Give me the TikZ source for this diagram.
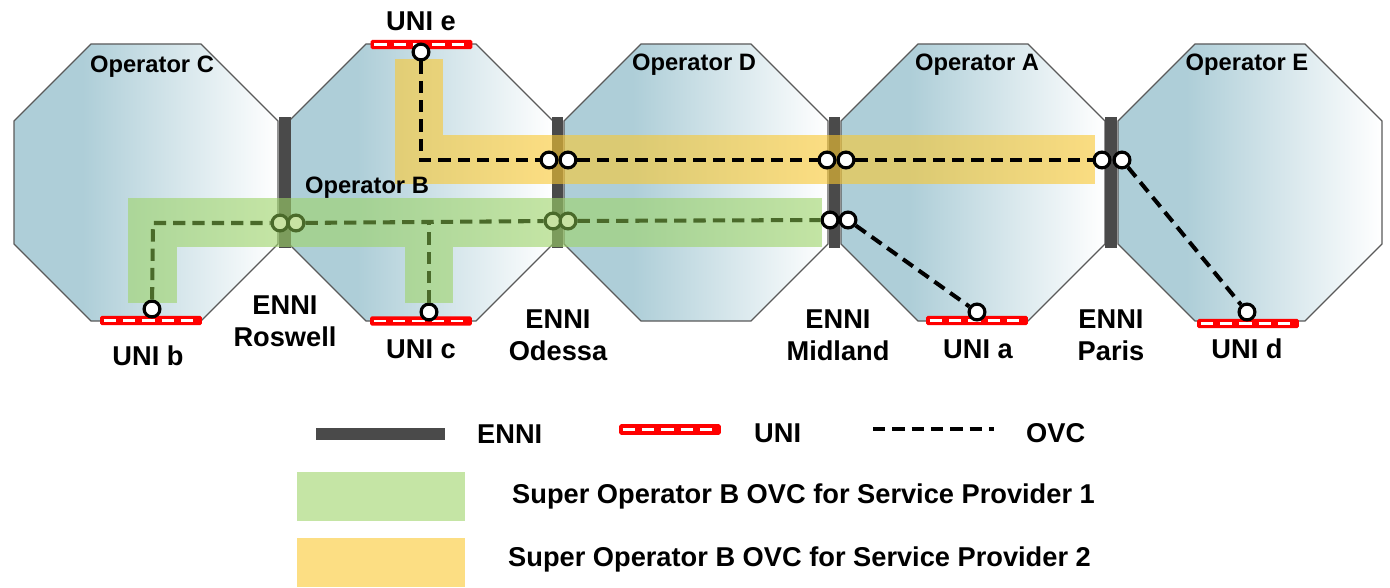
\documentclass[tikz,border=0pt]{standalone}
\usepackage{fontspec}
\setmainfont{Liberation Sans}
\usetikzlibrary{positioning}
\definecolor{opblue}{HTML}{AECED8}
\definecolor{opline}{HTML}{5A5A5A}
\definecolor{ennigray}{HTML}{4A4A4A}
\definecolor{ovcgreen}{HTML}{4A6A2A}
\definecolor{greenpt}{HTML}{C8E2A2}
\definecolor{spone}{HTML}{9ED469}
\definecolor{sptwo}{HTML}{FAC830}
\definecolor{unired}{HTML}{FF0000}
\pgfdeclarehorizontalshading{opshade}{100bp}{color(0bp)=(opblue); color(25bp)=(opblue); color(38bp)=(opblue); color(75bp)=(white); color(100bp)=(white)}
\tikzset{
  operator/.style={
    draw=opline,
    line width=0.7pt,
    shading=opshade
  },
  enni/.style={
    fill=ennigray,
    inner sep=0pt,
    minimum width=6.8pt,
    minimum height=74.3pt
  },
  unibar/.style={
    fill=unired,
    rounded corners=1pt,
    inner sep=0pt,
    minimum width=57.8pt,
    minimum height=5.4pt,
    path picture={
      \draw[white, line width=1.4pt, dash pattern=on 7pt off 4pt]
        ([xshift=2pt]path picture bounding box.west) -- ([xshift=-2pt]path picture bounding box.east);
    }
  },
  sponeband/.style={fill=spone, opacity=0.6},
  sptwoband/.style={fill=sptwo, opacity=0.6},
  ovc/.style={
    line width=2.3pt,
    dash pattern=on 7pt off 4pt
  },
  ovcg/.style={ovc, draw=ovcgreen},
  endpt/.style={
    circle,
    draw=black,
    fill=white,
    line width=1.8pt,
    minimum size=9pt,
    inner sep=0pt
  },
  greenendpt/.style={endpt, draw=ovcgreen, fill=greenpt},
  oplabel/.style={font=\fontsize{13.5}{15}\selectfont\bfseries},
  biglabel/.style={font=\fontsize{15.5}{18}\selectfont\bfseries, align=center}
}
\begin{document}
\begin{tikzpicture}[x=0.02cm, y=-0.02cm]
    \useasboundingbox (0,0) rectangle (1390,588);
    % operator domains
    \foreach \cx in {146,421,696,973,1250}
      \draw[operator] ({\cx-55},44) -- ({\cx+55},44) -- ({\cx+132},121) -- ({\cx+132},244)
        -- ({\cx+55},321) -- ({\cx-55},321) -- ({\cx-132},244) -- ({\cx-132},121) -- cycle;
    % ENNIs
    \node[enni] (roswell) at (285,182.5) {};
    \node[enni] (odessa) at (557.5,182.5) {};
    \node[enni] (midland) at (834.5,182.5) {};
    \node[enni] (paris) at (1111,182.5) {};
    % super operator OVCs
    \fill[sponeband] (128,198) rectangle (822,247);
    \fill[sponeband] (128,247) rectangle (177,303);
    \fill[sponeband] (405,247) rectangle (453,303);
    \fill[sptwoband] (395,135) rectangle (1095,184);
    \fill[sptwoband] (395,59) rectangle (443,135);
    % UNIs
    \node[unibar] (unib) at (151,320.5) {};
    \node[unibar] (unic) at (421,321) {};
    \node[unibar] (unie) at (421.5,44.5) {};
    \node[unibar] (unia) at (977,320.5) {};
    \node[unibar] (unid) at (1248,323.5) {};
    % OVC end points
    \node[endpt] (pe) at (421,52) {};
    \node[endpt] (po1) at (549,160) {};
    \node[endpt] (po2) at (568,160) {};
    \node[endpt] (pm1) at (827,160) {};
    \node[endpt] (pm2) at (846,160) {};
    \node[endpt] (pp1) at (1102,160) {};
    \node[endpt] (pp2) at (1122,160) {};
    \node[endpt] (pd) at (1247,312) {};
    \node[endpt] (pb) at (152,309) {};
    \node[greenendpt] (pr1) at (280,223) {};
    \node[greenendpt] (pr2) at (296,223) {};
    \node[greenendpt] (po3) at (553,221) {};
    \node[greenendpt] (po4) at (568,221) {};
    \node[endpt] (pm3) at (830,220) {};
    \node[endpt] (pm4) at (848,220) {};
    \node[endpt] (pc) at (429,312) {};
    \node[endpt] (pa) at (977,312) {};
    \coordinate (ebend) at (421,160);
    \coordinate (bbend) at (153,223);
    \coordinate (cjoin) at (429,222);
    % OVC segments
    \draw[ovc] (pe) -- (ebend) -- (po1);
    \draw[ovc] (po2) -- (pm1);
    \draw[ovc] (pm2) -- (pp1);
    \draw[ovc] (pp2) -- (pd);
    \draw[ovcg] (pb) -- (bbend) -- (pr1);
    \draw[ovcg] (pr2) -- (po3);
    \draw[ovcg] (pc) -- (cjoin);
    \draw[ovcg] (po4) -- (pm3);
    \draw[ovc] (pm4) -- (pa);
    % labels
    \node[oplabel] (lopc) at (152,67) {Operator C};
    \node[oplabel] (lopb) at (367,188) {Operator B};
    \node[oplabel] (lopd) at (694,65) {Operator D};
    \node[oplabel] (lopa) at (977,65) {Operator A};
    \node[oplabel] (lope) at (1247,65) {Operator E};
    \node[biglabel] (lunie) at (421,21) {UNI e};
    \node[biglabel] (lunib) at (148,356) {UNI b};
    \node[biglabel] (lunic) at (421,349) {UNI c};
    \node[biglabel] (lunia) at (978,349) {UNI a};
    \node[biglabel] (lunid) at (1247,349) {UNI d};
    \node[biglabel] (lroswell) at (285,321) {ENNI\\Roswell};
    \node[biglabel] (lodessa) at (558,335) {ENNI\\Odessa};
    \node[biglabel] (lmidland) at (838,335) {ENNI\\Midland};
    \node[biglabel] (lparis) at (1111,335) {ENNI\\Paris};
    % legend
    \node[enni, minimum width=73pt, minimum height=7.2pt] (kenni) at (380.5,434) {};
    \node[biglabel, anchor=west] (tenni) at (471,434) {ENNI};
    \node[unibar, minimum height=6pt] (kuni) at (670,429.5) {};
    \node[biglabel, anchor=west] (tuni) at (748,433) {UNI};
    \coordinate (kovcl) at (873,429);
    \coordinate (kovcr) at (994,429);
    \draw[ovc] (kovcl) -- (kovcr);
    \node[biglabel, anchor=west] (tovc) at (1020,433) {OVC};
    \fill[sponeband] (297,472) rectangle (465,521);
    \node[biglabel, anchor=west] (tspone) at (506,496) {Super Operator B OVC for Service Provider 1};
    \fill[sptwoband] (297,538) rectangle (465,587);
    \node[biglabel, anchor=west] (tsptwo) at (502,559) {Super Operator B OVC for Service Provider 2};
\end{tikzpicture}
\end{document}
